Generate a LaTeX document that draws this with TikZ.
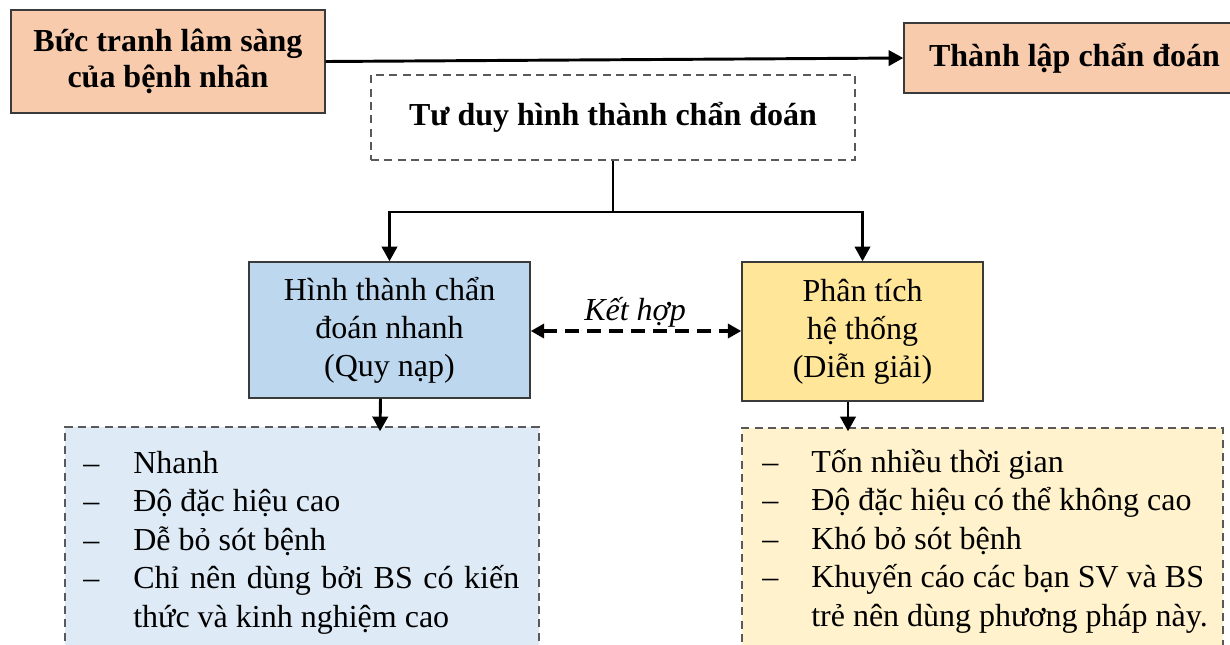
\documentclass[tikz,border=0pt]{standalone}
\usepackage{fontspec}
\setmainfont{Liberation Serif}
\usetikzlibrary{arrows.meta,calc}
\definecolor{peach}{HTML}{F8CBAD}
\definecolor{skyfill}{HTML}{BDD7EE}
\definecolor{goldfill}{HTML}{FFE699}
\definecolor{skylight}{HTML}{DEEBF7}
\definecolor{goldlight}{HTML}{FFF2CC}
\definecolor{edgegray}{HTML}{3A3A3A}
\definecolor{dashgray}{HTML}{595959}
\begin{document}
\begin{tikzpicture}[x=0.75pt,y=-0.75pt,
  box/.style={draw=edgegray, line width=1.1pt, inner sep=0pt, align=center},
  dbox/.style={draw=dashgray, line width=1.1pt, dash pattern=on 6pt off 4pt, inner sep=0pt},
  body/.style={font=\fontsize{24}{28.5}\selectfont},
  head/.style={font=\bfseries\fontsize{24}{26.5}\selectfont},
  item/.style={anchor=base west, inner sep=0pt, font=\fontsize{24}{28.5}\selectfont},
  conn/.style={line width=2.2pt},
  arr/.style={conn, -{Triangle[length=11pt,width=11.5pt]}},
]
\useasboundingbox (0,0) rectangle (1230,644);
\clip (0,0) rectangle (1230,644);
\fill[white] (0,0) rectangle (1230,644);

% top row
\node[box, head, fill=peach, minimum width=235.5pt, minimum height=77.25pt] (tl) at (168,61.5)
  {Bức tranh lâm sàng\\của bệnh nhân};
\node[box, head, fill=peach, minimum width=255.75pt, minimum height=52.5pt] (tr) at (1074.5,58)
  {Thành lập chẩn đoán};
\draw[arr] (tl.east) -- (tr.west);

% reasoning heading
\node[dbox, head, minimum width=363pt, minimum height=63.75pt] (think) at (613,117.5)
  {Tư duy hình thành chẩn đoán};

% two approaches
\node[box, body, fill=skyfill, minimum width=210.75pt, minimum height=102pt] (blue) at (389.5,330)
  {Hình thành chẩn\\đoán nhanh\\(Quy nạp)};
\node[box, body, fill=goldfill, minimum width=180.75pt, minimum height=104.25pt] (yellow) at (862.5,331.5)
  {Phân tích\\hệ thống\\(Diễn giải)};

\coordinate (split) at (613,212);
\draw[conn] (think.south) -- (split);
\draw[arr] (split) -| (blue.north);
\draw[arr] (split) -| (yellow.north);

% combination link
\draw[line width=2.7pt, dash pattern=on 10pt off 6.5pt, {Triangle[length=10pt,width=10.5pt]}-{Triangle[length=10pt,width=10.5pt]}]
  ($(blue.east)+(0,1)$) -- ($(yellow.west)+(0,-0.5)$);
\node[anchor=base, inner sep=0pt, font=\itshape\fontsize{24}{28.5}\selectfont] (combo) at (635,320) {Kết hợp};

% property lists
\node[dbox, fill=skylight, minimum width=355.5pt, minimum height=204.75pt] (lb) at (302,563.5) {};
\node[dbox, fill=goldlight, minimum width=360.75pt, minimum height=204pt] (ly) at (982.5,564) {};
\draw[arr] ($(blue.south)+(-9,0)$) -- ($(lb.north)+(78,5)$);
\draw[arr] ($(yellow.south)+(-14.5,0)$) -- ($(ly.north)+(-134.5,4)$);

\node[item] (b1) at (83,473) {\makebox[37.5pt][l]{–}Nhanh};
\node[item] (b2) at (83,511.5) {\makebox[37.5pt][l]{–}Độ đặc hiệu cao};
\node[item] (b3) at (83,550) {\makebox[37.5pt][l]{–}Dễ bỏ sót bệnh};
\node[item] (b4) at (83,588.5) {\makebox[37.5pt][l]{–}\makebox[289.5pt][s]{Chỉ nên dùng bởi BS có kiến}};
\node[item] (b5) at (133,627) {thức và kinh nghiệm cao};

\node[item] (y1) at (762,472) {\makebox[36.75pt][l]{–}Tốn nhiều thời gian};
\node[item] (y2) at (762,510.5) {\makebox[36.75pt][l]{–}Độ đặc hiệu có thể không cao};
\node[item] (y3) at (762,549) {\makebox[36.75pt][l]{–}Khó bỏ sót bệnh};
\node[item] (y4) at (762,587.5) {\makebox[36.75pt][l]{–}Khuyến cáo các bạn SV và BS};
\node[item] (y5) at (811,626) {trẻ nên dùng phương pháp này.};
\end{tikzpicture}
\end{document}
